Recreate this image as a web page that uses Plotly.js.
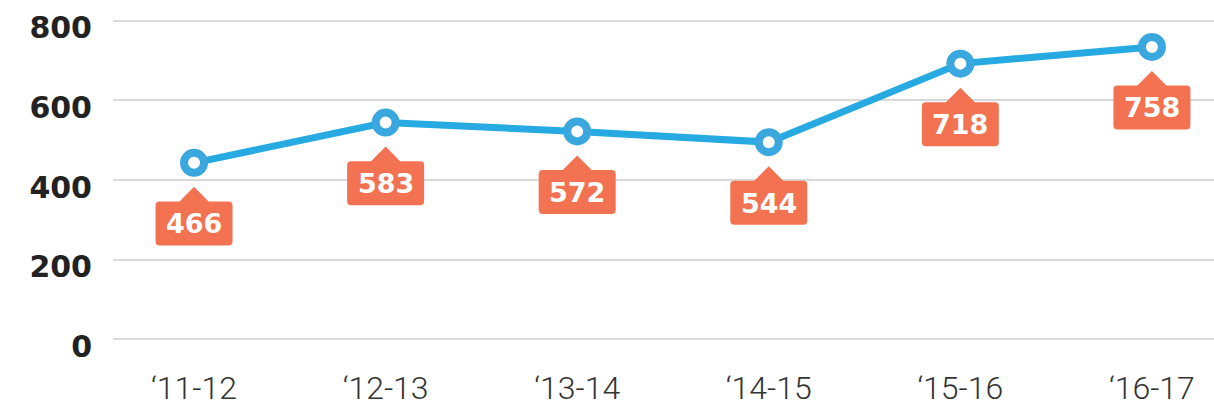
<!DOCTYPE html>
<html>
<head>
<meta charset="utf-8">
<script src="https://cdn.plot.ly/plotly-3.0.1.min.js"></script>
<style>html,body{margin:0;padding:0;background:#fff}#chart{width:1214px;height:408px}</style>
</head>
<body>
<div id="chart"></div>
<script>
const categories = ["\u201811-12", "\u201812-13", "\u201813-14", "\u201814-15", "\u201815-16", "\u201816-17"];
const plottedValues = [443, 544, 522, 495, 692, 734];
const labelValues = [466, 583, 572, 544, 718, 758];
const yTicks = [0, 200, 400, 600, 800];

const ORANGE = '#f37251';
const BLUE = '#27aae1';

const calloutPath = 'M 0,-24 L 14.5,-38.6 L 34.5,-38.6 Q 38.5,-38.6 38.5,-42.6 L 38.5,-78.6 Q 38.5,-82.6 34.5,-82.6 L -34.5,-82.6 Q -38.5,-82.6 -38.5,-78.6 L -38.5,-42.6 Q -38.5,-38.6 -34.5,-38.6 L -14.5,-38.6 Z';

const shapes = categories.map((c, i) => ({
  type: 'path', xref: 'x', yref: 'y',
  xsizemode: 'pixel', ysizemode: 'pixel',
  xanchor: i, yanchor: plottedValues[i],
  path: calloutPath,
  fillcolor: ORANGE, line: {width: 0}, layer: 'above'
}));

const annotations = categories.map((c, i) => ({
  x: i, y: plottedValues[i], xref: 'x', yref: 'y',
  text: String(labelValues[i]), showarrow: false,
  yshift: -61, xanchor: 'center', yanchor: 'middle',
  font: {family: 'DejaVu Sans', size: 27, color: '#ffffff', weight: 'bold'}
}));

const trace = {
  x: categories.map((c, i) => i),
  y: plottedValues,
  type: 'scatter', mode: 'lines+markers',
  line: {color: BLUE, width: 7},
  marker: {symbol: 'circle', size: 20, color: '#ffffff', line: {color: '#3aa7df', width: 8}},
  hoverinfo: 'skip', cliponaxis: false
};

const layout = {
  width: 1214, height: 408,
  margin: {l: 113, r: 0, t: 19, b: 67},
  paper_bgcolor: '#ffffff', plot_bgcolor: '#ffffff',
  showlegend: false,
  xaxis: {
    range: [-0.423, 5.324], tickmode: 'array',
    tickvals: categories.map((c, i) => i), ticktext: categories,
    showgrid: false, zeroline: false, showline: false, ticks: '',
    ticklabelstandoff: 25,
    tickfont: {family: 'Roboto', size: 32, color: '#333333', weight: 300},
    fixedrange: true
  },
  yaxis: {
    range: [-4, 804], tickmode: 'array', tickvals: yTicks, ticktext: yTicks.map(String),
    showgrid: true, gridcolor: '#d9d9d9', gridwidth: 2,
    zeroline: false, showline: false, ticks: '',
    ticklabelstandoff: 20, ticklabelshift: 7,
    tickfont: {family: 'DejaVu Sans', size: 30, color: '#222222', weight: 'bold'},
    fixedrange: true
  },
  shapes: shapes,
  annotations: annotations
};

Plotly.newPlot('chart', [trace], layout, {displayModeBar: false, staticPlot: true});
</script>
</body>
</html>
